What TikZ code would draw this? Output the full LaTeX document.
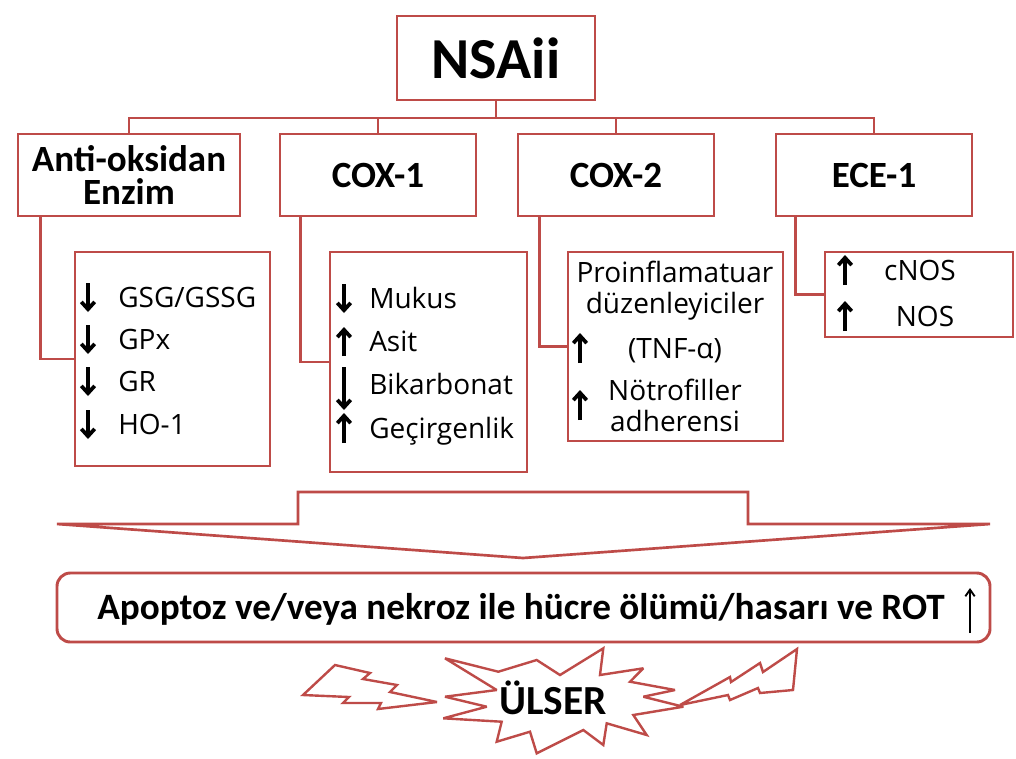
\documentclass[tikz,border=0pt]{standalone}
\usepackage{fontspec}
\setmainfont{Open Sans}
\newfontfamily\hdf{Carlito}
\usetikzlibrary{arrows.meta}
\definecolor{brd}{RGB}{190,75,72}
\begin{document}
\begin{tikzpicture}[x=0.75pt,y=-0.75pt,
  box/.style={draw=brd,line width=2.2pt,fill=white,inner sep=0pt,align=center,
    font=\hdf\bfseries\fontsize{27.75}{25}\selectfont},
  cbox/.style={draw=brd,line width=2.2pt,fill=white,inner sep=0pt},
  link/.style={draw=brd,line width=2.2pt},
  item/.style={anchor=base west,inner sep=0pt,font=\fontsize{21}{24}\selectfont},
  citem/.style={anchor=base,inner sep=0pt,font=\fontsize{21}{24}\selectfont},
  arr/.style={line width=2.8pt,-{Straight Barb[length=5.5pt,width=10pt]}},
  outl/.style={draw=brd,line width=1.8pt,fill=white,miter limit=3},
]
\fill[white] (0,0) rectangle (1016,758);
\useasboundingbox (0,0) rectangle (1016,758);

% top node
\node[box,minimum width=148.5pt,minimum height=63pt,
  font=\hdf\bfseries\fontsize{43.5}{48}\selectfont] (ns) at (496,58) {NSAii};

% level 1
\node[box,minimum width=166.5pt,minimum height=61.5pt] (ant) at (129,175) {Anti-oksidan\\Enzim};
\node[box,minimum width=147pt,minimum height=61.5pt] (cox1) at (378,175) {COX-1};
\node[box,minimum width=147pt,minimum height=61.5pt] (cox2) at (616,175) {COX-2};
\node[box,minimum width=147pt,minimum height=61.5pt] (ece) at (874,175) {ECE-1};

% bus
\coordinate (bus) at (496,118);
\draw[link] (ns.south) -- (bus);
\draw[link] (ant.north) -- (ant.north |- bus) -- (ece.north |- bus) -- (ece.north);
\draw[link] (cox1.north) -- (cox1.north |- bus);
\draw[link] (cox2.north) -- (cox2.north |- bus);

% child boxes
\node[cbox,minimum width=146.25pt,minimum height=160.5pt] (antc) at (172.5,359) {};
\node[cbox,minimum width=147.75pt,minimum height=165pt] (c1c) at (428.5,362) {};
\node[cbox,minimum width=161.25pt,minimum height=141.75pt] (c2c) at (675.5,346.5) {};
\node[cbox,minimum width=141pt,minimum height=63.75pt] (ecec) at (919,294.5) {};

% connectors to children
\draw[link] ([xshift=18pt]ant.south west) |- (antc.west);
\draw[link] ([xshift=16.5pt]cox1.south west) |- (c1c.west);
\draw[link] ([xshift=17pt]cox2.south west) |- (c2c.west);
\draw[link] ([xshift=16pt]ece.south west) |- (ecec.west);

% anti-oksidan items
\node[item] (a1) at (118,307) {GSG/GSSG};
\node[item] (a2) at (118,349) {GPx};
\node[item] (a3) at (118,391) {GR};
\node[item] (a4) at (118,434) {HO-1};
\draw[arr] (88,283) -- (88,312);
\draw[arr] (88,325) -- (88,354);
\draw[arr] (88,367) -- (88,396);
\draw[arr] (88,410) -- (88,439);

% cox-1 items
\node[item] (b1) at (369,308) {Mukus};
\node[item] (b2) at (369,351) {Asit};
\node[item] (b3) at (369,394) {Bikarbonat};
\node[item] (b4) at (369,438) {Geçirgenlik};
\draw[arr] (344,284) -- (344,313);
\draw[arr] (344,356) -- (344,327);
\draw[arr] (344,367) -- (344,410);
\draw[arr] (344,443) -- (344,413);

% cox-2 items
\node[citem] (c1) at (675,282) {Proinflamatuar};
\node[citem] (c2) at (675,313) {düzenleyiciler};
\node[citem] (c3) at (675,358) {(TNF-α)};
\node[citem] (c4) at (675,400) {Nötrofiller};
\node[citem] (c5) at (675,431) {adherensi};
\draw[arr] (580,363) -- (580,333);
\draw[arr] (580,420) -- (580,390);

% ece-1 items
\node[citem] (d1) at (920,280) {cNOS};
\node[citem] (d2) at (925,326) {NOS};
\draw[arr] (845,285) -- (845,255);
\draw[arr] (845,331) -- (845,301);

% big downward arrow
\draw[outl,line width=2pt] (298,492) -- (748,492) -- (748,524) -- (990,524) -- (523,558)
  -- (57,524) -- (298,524) -- cycle;

% result box
\node[cbox,rounded corners=10pt,minimum width=699.75pt,minimum height=51.75pt] (res) at (523.5,607.5) {};
\node[inner sep=0pt,font=\hdf\bfseries\fontsize{27.9}{30}\selectfont] (rest) at (521,609)
  {Apoptoz ve/veya nekroz ile hücre ölümü/hasarı ve ROT};
\draw[line width=1.4pt,-{Straight Barb[length=5pt,width=7pt]}] (970,633) -- (970,588);

% star
\draw[outl] (445,658.3) -- (498.3,671.7) -- (536.7,660) -- (560,675) -- (603.3,648.3)
  -- (600,675) -- (643.3,668.3) -- (630,681.7) -- (675,690) -- (643.3,696.7)
  -- (683.3,706.7) -- (633.3,715) -- (646.7,735) -- (606.7,723.3) -- (603.3,745)
  -- (583.3,730) -- (536.7,753.3) -- (530,731.7) -- (496.7,741.7) -- (501.7,721.7)
  -- (443.3,718.3) -- (486.7,706.7) -- (445,696.7) -- (496.7,690) -- cycle;
\node[inner sep=0pt,font=\hdf\bfseries\fontsize{31}{34}\selectfont] (ul) at (553,698) {ÜLSER};

% lightning bolts
\draw[outl] (303,695) -- (335,665) -- (370,673) -- (363,679) -- (397,685) -- (390,692)
  -- (437,702) -- (378,709) -- (381,703) -- (343,703) -- (349,697) -- cycle;
\draw[outl] (797,649) -- (763,672) -- (760,663) -- (731,682) -- (730,677) -- (680,705)
  -- (728,695) -- (730,700) -- (758,688) -- (760,693) -- (793,690) -- cycle;
\end{tikzpicture}
\end{document}
